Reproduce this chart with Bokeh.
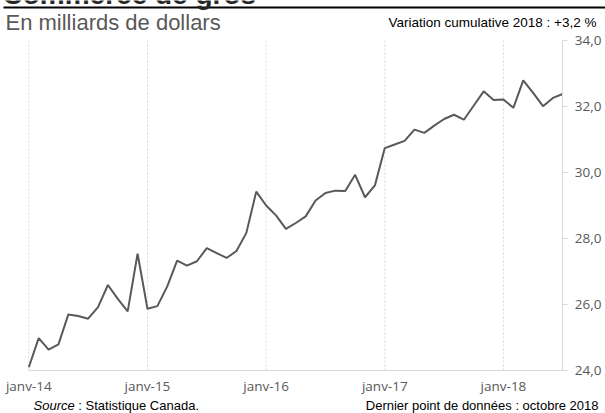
from bokeh.plotting import figure
from bokeh.models import Range1d, FixedTicker, Label, GlobalInlineStyleSheet
from bokeh.embed import file_html
from bokeh.resources import INLINE

# ---- data ----
values = [
    24.10, 24.98, 24.63, 24.79, 25.70, 25.65, 25.57, 25.92, 26.59, 26.17, 25.79, 27.54,
    25.87, 25.95, 26.55, 27.33, 27.18, 27.31, 27.71, 27.56, 27.41, 27.62, 28.17, 29.42,
    29.00, 28.70, 28.29, 28.47, 28.67, 29.15, 29.38, 29.45, 29.44, 29.93, 29.25, 29.61,
    30.74, 30.85, 30.96, 31.30, 31.20, 31.42, 31.62, 31.75, 31.60, 32.03, 32.46, 32.20,
    32.21, 31.96, 32.79, 32.41, 32.01, 32.26, 32.38,
]
months = list(range(len(values)))  # 0 = janv-14
x_tick_positions = [0, 12, 24, 36, 48]
x_tick_labels = ["janv-14", "janv-15", "janv-16", "janv-17", "janv-18"]
y_ticks = [24, 26, 28, 30, 32, 34]
y_tick_labels = ["24,0", "26,0", "28,0", "30,0", "32,0", "34,0"]

title_text = "Commerce de gros"
subtitle_text = "En milliards de dollars"
note_text = "Variation cumulative 2018 : +3,2 %"
source_label = "Source"
source_text = ": Statistique Canada."
last_point_text = "Dernier point de données : octobre 2018"

GRAY = "#595959"
LIGHT = "#d9d9d9"

# ---- layout (pixels) ----
W, H = 605, 413
X_LEFT_PX, X_RIGHT_PX = 28.3, 562.3      # first / last month
Y_BOTTOM_PX, Y_TOP_PX = 370.0, 40.0      # 24,0 / 34,0
x_first, x_last = months[0], months[-1]
y_min, y_max = y_ticks[0], y_ticks[-1]
ppx = (X_RIGHT_PX - X_LEFT_PX) / (x_last - x_first)
ppy = (Y_BOTTOM_PX - Y_TOP_PX) / (y_max - y_min)

def dx(px):
    return x_first + (px - X_LEFT_PX) / ppx

def dy(py):
    return y_min + (Y_BOTTOM_PX - py) / ppy

p = figure(width=W, height=H, output_backend="svg", toolbar_location=None,
           x_range=Range1d(dx(0), dx(W)), y_range=Range1d(dy(H), dy(0)),
           y_axis_location="right",
           min_border_left=0, min_border_right=0, min_border_top=0, min_border_bottom=0)
p.stylesheets = [GlobalInlineStyleSheet(css="html, body { margin: 0; padding: 0; overflow: hidden; }")]
p.outline_line_color = None
p.background_fill_color = "white"
p.border_fill_color = "white"
p.xgrid.grid_line_color = None
p.ygrid.grid_line_color = None

# vertical dotted grid lines at each January
p.segment(x0=x_tick_positions, y0=[y_min] * len(x_tick_positions),
          x1=x_tick_positions, y1=[y_max] * len(x_tick_positions),
          line_color=LIGHT, line_width=1, line_dash="2 2")

# the series
p.line(months, values, line_color=GRAY, line_width=2)

# x axis
xa = p.xaxis[0]
xa.fixed_location = y_min
xa.bounds = (x_first, x_last)
xa.ticker = FixedTicker(ticks=x_tick_positions)
xa.major_label_overrides = {t: l for t, l in zip(x_tick_positions, x_tick_labels)}
xa.axis_line_color = LIGHT
xa.major_tick_out = 0
xa.major_tick_in = 0
xa.minor_tick_out = 0
xa.minor_tick_in = 0
xa.major_label_standoff = 6
xa.major_label_text_font = "Open Sans"
xa.major_label_text_font_size = "13.5px"
xa.major_label_text_color = GRAY

# y axis (right)
ya = p.yaxis[0]
ya.fixed_location = x_last
ya.bounds = (y_min, y_max)
ya.ticker = FixedTicker(ticks=y_ticks)
ya.major_label_overrides = {t: l for t, l in zip(y_ticks, y_tick_labels)}
ya.axis_line_color = LIGHT
ya.major_tick_line_color = LIGHT
ya.major_tick_out = 5
ya.major_tick_in = 0
ya.minor_tick_out = 0
ya.minor_tick_in = 0
ya.major_label_standoff = 7
ya.major_label_text_font = "Open Sans"
ya.major_label_text_font_size = "13.5px"
ya.major_label_text_color = GRAY

# header
p.add_layout(Label(x=dx(2), y=dy(-6), text=title_text, text_font="Liberation Sans",
                   text_font_style="bold", text_font_size="28px", text_color="#262626",
                   text_baseline="alphabetic"))
p.segment(x0=[dx(3)], y0=[dy(7)], x1=[dx(W)], y1=[dy(7)],
          line_color="black", line_width=2)
p.add_layout(Label(x=dx(5), y=dy(22), text=subtitle_text, text_font="Liberation Sans",
                   text_font_size="22px", text_color=GRAY, text_baseline="alphabetic"))
p.add_layout(Label(x=dx(596), y=dy(22), text=note_text, text_font="Liberation Sans",
                   text_font_size="13.5px", text_color="black", text_align="right",
                   text_baseline="alphabetic"))

# footer
src_x = 33
foot_y = 405
p.add_layout(Label(x=dx(src_x), y=dy(foot_y), text=source_label, text_font="Liberation Sans",
                   text_font_style="italic", text_font_size="13px", text_color="black",
                   text_baseline="alphabetic"))
p.add_layout(Label(x=dx(src_x + 41.2 + 3.6), y=dy(foot_y), text=source_text,
                   text_font="Liberation Sans", text_font_size="13px", text_color="black",
                   text_baseline="alphabetic"))
p.add_layout(Label(x=dx(598), y=dy(foot_y), text=last_point_text, text_font="Liberation Sans",
                   text_font_size="13px", text_color="black", text_align="right",
                   text_baseline="alphabetic"))

open("out.html", "w").write(file_html(p, INLINE))
